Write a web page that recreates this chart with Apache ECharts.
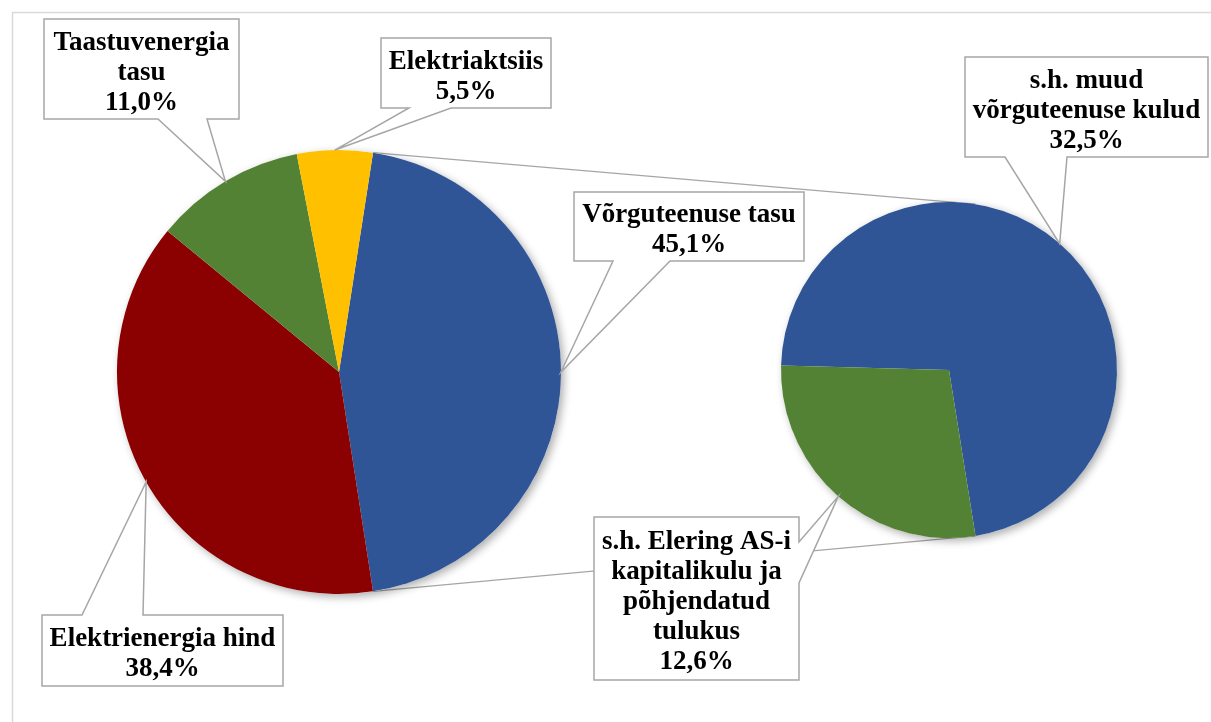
<!DOCTYPE html>
<html>
<head>
<meta charset="utf-8">
<script src="https://cdn.jsdelivr.net/npm/echarts@6/dist/echarts.min.js"></script>
<style>
  html, body { margin: 0; padding: 0; background: #ffffff; }
  #chart { width: 1211px; height: 722px; }
</style>
</head>
<body>
<div id="chart"></div>
<script>
// Electricity price structure: main pie plus a breakdown pie of the network fee
const mainNames  = ['Võrguteenuse tasu', 'Elektrienergia hind', 'Taastuvenergia tasu', 'Elektriaktsiis'];
const mainLabels = ['Võrguteenuse tasu', 'Elektrienergia hind', 'Taastuvenergia\ntasu', 'Elektriaktsiis'];
const mainValues = [45.1, 38.4, 11.0, 5.5];

const subNames  = ['s.h. muud võrguteenuse kulud', 's.h. Elering AS-i kapitalikulu ja põhjendatud tulukus'];
const subLabels = ['s.h. muud\nvõrguteenuse kulud', 's.h. Elering AS-i\nkapitalikulu ja\npõhjendatud\ntulukus'];
const subValues = [32.5, 12.6];

const mainColors = ['#2F5597', '#8B0000', '#548235', '#FFC000'];
const subColors  = ['#2F5597', '#548235'];

// geometry of both pies (pixels)
const MAIN = { cx: 339, cy: 372, r: 222 };
const SUB  = { cx: 949, cy: 370, r: 168, startAngle: 178.5 };

const sum = a => a.reduce((s, v) => s + v, 0);
// first slice of the main pie is centred on 3 o'clock
MAIN.startAngle = mainValues[0] / sum(mainValues) * 180;

// slice angles in ECharts convention (degrees, counter-clockwise from 3 o'clock, drawn clockwise)
function sliceAngles(values, start) {
  const total = sum(values);
  let a = start;
  return values.map(v => {
    const span = v / total * 360;
    const s = { a0: a, a1: a - span, mid: a - span / 2 };
    a -= span;
    return s;
  });
}
function pointAt(p, deg) {
  const t = deg * Math.PI / 180;
  return [p.cx + p.r * Math.cos(t), p.cy - p.r * Math.sin(t)];
}
const fmt = v => v.toFixed(1).replace('.', ',') + '%';

const mainAng = sliceAngles(mainValues, MAIN.startAngle);
const subAng  = sliceAngles(subValues, SUB.startAngle);

// callout boxes: [x, y, w, h], pointer side and the two base points of the pointer
const mainBoxes = [
  { box: [574, 192, 230, 69],  side: 'bottom', base: [613, 670] },
  { box: [42, 615, 241, 71],   side: 'top',    base: [82, 143] },
  { box: [44, 19, 195, 100],   side: 'bottom', base: [158, 207] },
  { box: [381, 38, 170, 70],   side: 'bottom', base: [409, 451] }
];
const subBoxes = [
  { box: [965, 57, 243, 100],  side: 'bottom', base: [1005, 1067] },
  { box: [594, 517, 205, 163], side: 'right',  base: [542, 583] }
];

const LINE = '#A6A6A6';
const LABEL_FONT = 'bold 27px "Liberation Serif", "Times New Roman", serif';

function calloutPoints(b, tip) {
  const [x, y, w, h] = b.box, x2 = x + w, y2 = y + h, [p, q] = b.base;
  if (b.side === 'bottom') return [[x, y], [x2, y], [x2, y2], [q, y2], tip, [p, y2], [x, y2]];
  if (b.side === 'top')    return [[x, y], [p, y], tip, [q, y], [x2, y], [x2, y2], [x, y2]];
  return [[x, y], [x2, y], [x2, p], tip, [x2, q], [x2, y2], [x, y2]];
}

function callouts(boxes, labels, values, angles, pie) {
  const els = [];
  boxes.forEach((b, i) => {
    const tip = pointAt(pie, angles[i].mid);
    els.push({
      type: 'polygon', z: 10, silent: true,
      shape: { points: calloutPoints(b, tip) },
      style: { fill: '#ffffff', stroke: LINE, lineWidth: 1.5 }
    });
    const [x, y, w, h] = b.box;
    els.push({
      type: 'text', z: 11, silent: true,
      x: x + w / 2, y: y + h / 2 + 4,
      style: {
        text: labels[i] + '\n' + fmt(values[i]),
        fill: '#000000',
        font: LABEL_FONT,
        lineHeight: 30,
        align: 'center', verticalAlign: 'middle'
      }
    });
  });
  return els;
}

// connector lines between the split slice and the breakdown pie
const fromTop = pointAt(MAIN, mainAng[0].a0);
const fromBot = pointAt(MAIN, mainAng[0].a1);
const toBot = pointAt(SUB, subAng[0].a1);
const toTop = pointAt(SUB, -subAng[0].a1);

const shadowStyle = {
  fill: '#ffffff', shadowBlur: 9, shadowColor: 'rgba(0,0,0,0.32)',
  shadowOffsetX: 3, shadowOffsetY: 3
};

const graphics = [
  { type: 'rect', z: 0, silent: true, shape: { x: 12.5, y: 12.5, width: 1400, height: 900 },
    style: { fill: 'none', stroke: '#D9D9D9', lineWidth: 1.5 } },
  { type: 'line', z: 0, silent: true, shape: { x1: fromTop[0], y1: fromTop[1], x2: toTop[0], y2: toTop[1] },
    style: { stroke: LINE, lineWidth: 1.3 } },
  { type: 'line', z: 0, silent: true, shape: { x1: fromBot[0], y1: fromBot[1], x2: toBot[0], y2: toBot[1] },
    style: { stroke: LINE, lineWidth: 1.3 } },
  { type: 'circle', z: 1, silent: true, shape: { cx: MAIN.cx, cy: MAIN.cy, r: MAIN.r }, style: shadowStyle },
  { type: 'circle', z: 1, silent: true, shape: { cx: SUB.cx, cy: SUB.cy, r: SUB.r }, style: shadowStyle }
].concat(
  callouts(mainBoxes, mainLabels, mainValues, mainAng, MAIN),
  callouts(subBoxes, subLabels, subValues, subAng, SUB)
);

const chart = echarts.init(document.getElementById('chart'), null, { renderer: 'canvas' });
chart.setOption({
  animation: false,
  backgroundColor: '#ffffff',
  series: [
    {
      type: 'pie', z: 2,
      center: [MAIN.cx, MAIN.cy], radius: MAIN.r,
      startAngle: MAIN.startAngle, clockwise: true,
      label: { show: false }, labelLine: { show: false },
      emphasis: { disabled: true },
      itemStyle: { borderWidth: 0 },
      data: mainNames.map((n, i) => ({ name: n, value: mainValues[i], itemStyle: { color: mainColors[i] } }))
    },
    {
      type: 'pie', z: 2,
      center: [SUB.cx, SUB.cy], radius: SUB.r,
      startAngle: SUB.startAngle, clockwise: true,
      label: { show: false }, labelLine: { show: false },
      emphasis: { disabled: true },
      itemStyle: { borderWidth: 0 },
      data: subNames.map((n, i) => ({ name: n, value: subValues[i], itemStyle: { color: subColors[i] } }))
    }
  ],
  graphic: graphics
});
</script>
</body>
</html>
